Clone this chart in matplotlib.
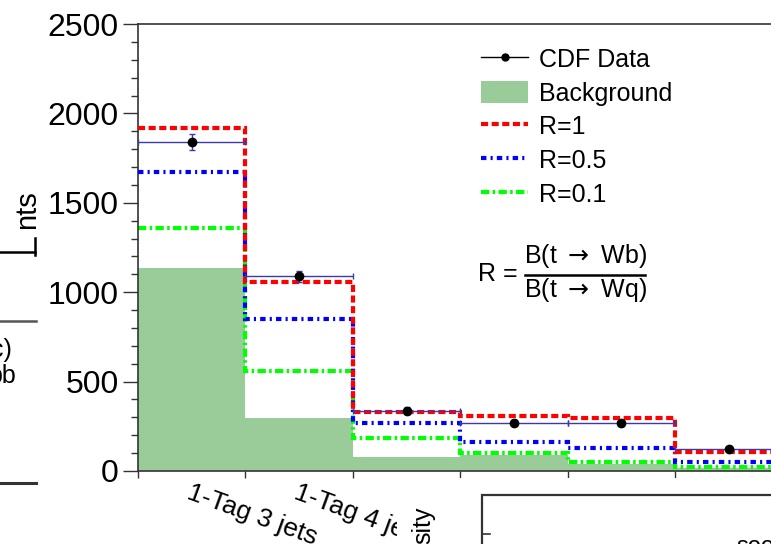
import matplotlib
matplotlib.use("Agg")
import matplotlib.pyplot as plt
from matplotlib.lines import Line2D
from matplotlib.patches import Patch, Rectangle
from matplotlib.ticker import MultipleLocator
from matplotlib.transforms import ScaledTranslation
import numpy as np

plt.rcParams['font.family'] = ['Liberation Sans', 'DejaVu Sans']

# events per channel
channels = ["1-Tag 3 jets", "1-Tag 4 jets", "", "", "", ""]
data = [1840, 1088, 338, 271, 270, 124]
data_err = [43, 33, 18, 16, 16, 11]
background = [1135, 296, 80, 88, 38, 15]
r_1 = [1921, 1056, 328, 306, 298, 108]
r_05 = [1672, 852, 269, 160, 126, 48]
r_01 = [1360, 562, 185, 103, 52, 25]

W, H = 771, 544
edges = np.arange(len(data) + 1)
centers = edges[:-1] + 0.5


def fx(x):
    return x / W


def fy(y):
    return 1 - y / H


fig = plt.figure(figsize=(W / 100, H / 100), dpi=100)
ax = fig.add_axes([fx(138), fy(471), 752 / W, 447 / H])

ax.stairs(background, edges, fill=True, color='#99cc99', lw=0, zorder=1)

red_ls = (0, (1.7, 0.85))
blue_ls = (0, (1.3, 1.0, 0.5, 1.0))
green_ls = (0, (2.0, 0.8, 0.6, 0.8))
ax.stairs(r_01, edges, baseline=None, color='#00ff00', lw=3, linestyle=green_ls, zorder=2)
ax.stairs(r_05, edges, baseline=None, color='#0000ff', lw=3, linestyle=blue_ls, zorder=3)
ax.stairs(r_1, edges, baseline=None, color='#ff0000', lw=3, linestyle=red_ls, zorder=4)

ax.errorbar(centers, data, xerr=0.5, yerr=data_err, fmt='o', color='black', ms=6,
            ecolor='#3a3aa8', elinewidth=1, capsize=2, zorder=5)

ax.set_xlim(0, 7)
ax.set_ylim(0, 2500)
ax.yaxis.set_major_locator(MultipleLocator(500))
ax.yaxis.set_minor_locator(MultipleLocator(100))
ax.set_xticks(edges)
ax.set_xticklabels([])
ax.set_xticks(centers, minor=True)
ax.set_xticklabels(channels, minor=True, rotation=-20, ha='left', va='top',
                   rotation_mode='anchor', fontsize=19)
shift = ScaledTranslation(4 / 72, 0, fig.dpi_scale_trans)
for lab in ax.get_xticklabels(minor=True):
    lab.set_transform(lab.get_transform() + shift)
ax.tick_params(axis='x', which='minor', length=0, pad=7)
ax.tick_params(axis='x', which='major', length=5, width=1, color='#333333', direction='out')
ax.tick_params(axis='y', which='major', length=11, width=1, color='#333333', labelsize=23, pad=3)
ax.tick_params(axis='y', which='minor', length=5, width=1, color='#333333')
for side in ['left', 'bottom', 'top']:
    ax.spines[side].set_color('#333333')
    ax.spines[side].set_linewidth(1.2)
ax.spines['right'].set_visible(False)

handles = [
    Line2D([], [], color='black', marker='o', ms=5, lw=1),
    Patch(facecolor='#99cc99', edgecolor='none'),
    Line2D([], [], color='#ff0000', lw=3, linestyle=red_ls),
    Line2D([], [], color='#0000ff', lw=3, linestyle=blue_ls),
    Line2D([], [], color='#00ff00', lw=3, linestyle=green_ls),
]
labels = ['CDF Data', 'Background', 'R=1', 'R=0.5', 'R=0.1']
fig.legend(handles, labels, loc='upper left', bbox_to_anchor=(fx(481), fy(47)),
           frameon=False, fontsize=18, borderpad=0, borderaxespad=0,
           handlelength=1.88, handletextpad=0.44, labelspacing=0.36, handleheight=1.0)

# ratio definition
fig.text(fx(478), fy(281), 'R =', fontsize=18, ha='left', va='baseline')
fig.text(fx(585), fy(263), r'B(t $\rightarrow$ Wb)', fontsize=18, ha='center', va='baseline')
fig.text(fx(585), fy(297), r'B(t $\rightarrow$ Wq)', fontsize=18, ha='center', va='baseline')
fig.add_artist(Line2D([fx(525), fx(645)], [fy(275), fy(275)], color='black', lw=1.8,
                      transform=fig.transFigure))

# neighbouring panels
fig.add_artist(Rectangle((fx(397), 0), 1, fy(478), transform=fig.transFigure,
                         facecolor='white', edgecolor='none', zorder=10))
fig.add_artist(Rectangle((fx(482), fy(900)), 1, (900 - 495) / H, transform=fig.transFigure,
                         facecolor='none', edgecolor='#333333', lw=1.6, zorder=11))
fig.add_artist(Line2D([fx(482), fx(490)], [fy(534), fy(534)], color='#333333', lw=1.2,
                      transform=fig.transFigure, zorder=11))
fig.text(fx(423), fy(507), 'sity', rotation=90, fontsize=18, ha='center', va='top', zorder=12)
fig.text(fx(736), fy(536), 'soo', fontsize=17, ha='left', va='top', zorder=12)

fig.text(fx(27), fy(190), 'nts', rotation=90, fontsize=21, ha='center', va='top')
fig.text(fx(12), fy(350), 'c)', fontsize=18, ha='right', va='center')
fig.text(fx(16), fy(376), 'pb', fontsize=18, ha='right', va='center')
fig.add_artist(Line2D([0, fx(35)], [fy(252), fy(252)], color='black', lw=1.8, transform=fig.transFigure))
fig.add_artist(Line2D([fx(35), fx(35)], [fy(238), fy(255)], color='black', lw=1.8, transform=fig.transFigure))
fig.add_artist(Line2D([0, fx(36)], [fy(321), fy(321)], color='#555555', lw=1.8, transform=fig.transFigure))
fig.add_artist(Line2D([0, fx(36)], [fy(483), fy(483)], color='#333333', lw=2.2, transform=fig.transFigure))

fig.savefig('out.png', dpi=100)
